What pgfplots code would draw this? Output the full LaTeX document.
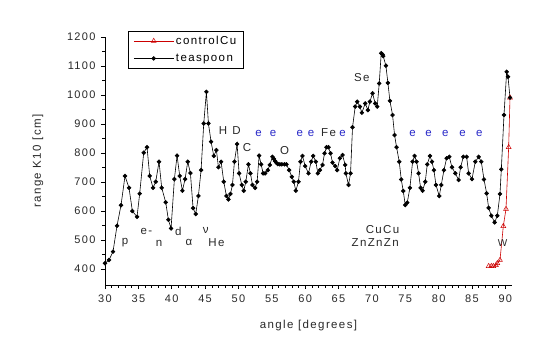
\documentclass[border=0pt]{standalone}
\usepackage{fontspec}
\setmainfont{Liberation Sans}
\newfontfamily\lbl{Liberation Sans}[LetterSpace=12]
\usepackage{pgfplots}
\pgfplotsset{compat=1.18}
\definecolor{ered}{RGB}{204,0,0}
\definecolor{eblue}{RGB}{40,40,200}
\definecolor{tgray}{RGB}{40,40,40}
\begin{document}
\begin{tikzpicture}
\path[use as bounding box] (-105pt,-69pt) rectangle (438pt,285pt);
\begin{axis}[
  at={(0pt,0pt)}, anchor=south west,
  scale only axis, width=407pt, height=248pt,
  xmin=30, xmax=91, ymin=345, ymax=1200,
  axis lines*=left,
  axis line style={line width=0.6pt},
  tick align=outside,
  major tick length=4pt, minor tick length=2.5pt,
  every tick/.style={black, line width=0.5pt},
  xtick={30,35,...,90}, minor x tick num=4,
  ytick={400,500,...,1200}, minor y tick num=1,
  /pgf/number format/assume math mode=true,
  /pgf/number format/set thousands separator={},
  tick label style={font=\lbl\fontsize{11}{13}\selectfont, text=tgray},
  xticklabel style={yshift=-2pt},
  yticklabel style={xshift=-2pt},
  xlabel={angle [degrees]}, ylabel={range K10 [cm]},
  label style={font=\lbl\fontsize{11.5}{13}\selectfont, text=tgray},
  xlabel style={at={(axis description cs:0.5,0)}, anchor=center, yshift=-41pt},
  ylabel style={at={(axis description cs:0,0.5)}, anchor=center, yshift=67pt},
  legend cell align=left,
  legend style={at={(rel axis cs:0.057,1.025)}, anchor=north west,
    draw=black, line width=0.6pt, font=\lbl\fontsize{11.5}{13}\selectfont,
    inner xsep=5pt, inner ysep=3pt, row sep=4pt},
  legend image code/.code={
    \draw[mark repeat=2,mark phase=2] plot coordinates {(0cm,0cm) (0.7cm,0cm) (1.4cm,0cm)};},
  legend image post style={line width=0.6pt},
  clip=false,
]
\addplot[ered, line width=0.6pt, mark=triangle, mark size=2.8pt, mark options={solid, line width=0.5pt}]
coordinates {
(87.5,410)(87.9,410)(88.2,410)(88.6,413)(88.8,420)(89.2,431)(89.7,548)(90.1,607)(90.5,820)(90.7,991)
};
\addlegendentry{controlCu}
\addplot[black, line width=0.6pt, mark=*, mark size=1.9pt]
coordinates {
(30.0,420)(30.6,431)(31.2,460)(31.8,549)(32.4,620)(33.0,721)(33.6,680)(34.1,600)(34.8,580)
(35.2,660)(35.8,801)(36.3,820)(36.7,721)(37.2,680)(37.6,701)(38.1,770)(38.5,680)(39.1,630)
(39.5,570)(39.9,540)(40.4,710)(40.8,791)(41.2,721)(41.6,670)(42.0,710)(42.4,770)(42.8,731)
(43.2,610)(43.6,590)(44.0,652)(44.4,741)(44.8,902)(45.2,1011)(45.5,902)(45.9,839)(46.3,790)
(46.7,810)(47.0,751)(47.4,770)(47.8,701)(48.2,652)(48.5,640)(48.8,659)(49.1,690)(49.4,770)
(49.8,831)(50.1,730)(50.5,690)(50.8,670)(51.1,701)(51.5,761)(51.8,730)(52.1,690)(52.5,680)
(52.8,701)(53.1,791)(53.4,761)(53.7,730)(54.0,730)(54.4,741)(54.7,759)(55.1,787)(55.3,780)
(55.5,772)(55.7,766)(55.9,762)(56.2,761)(56.5,761)(56.9,761)(57.2,761)(57.6,741)(58.0,718)
(58.3,701)(58.6,670)(59.0,701)(59.3,770)(59.6,790)(60.0,755)(60.5,730)(60.9,770)(61.2,790)
(61.6,770)(61.9,730)(62.2,741)(62.6,759)(62.9,799)(63.2,820)(63.5,820)(63.8,799)(64.1,767)
(64.5,755)(64.8,741)(65.2,782)(65.6,793)(66.0,759)(66.1,730)(66.5,690)(66.8,730)(67.1,889)
(67.5,960)(67.8,977)(68.2,960)(68.5,939)(69.0,971)(69.4,948)(69.7,977)(70.1,1006)(70.5,971)
(70.8,960)(71.1,1040)(71.4,1144)(71.6,1140)(71.7,1134)(72.1,1101)(72.4,1042)(72.7,980)
(73.1,931)(73.4,862)(73.7,820)(74.1,770)(74.4,709)(74.7,669)(75.0,621)(75.3,629)(75.7,680)
(76.1,770)(76.4,790)(76.7,770)(77.0,730)(77.3,680)(77.6,670)(78.0,701)(78.3,761)(78.7,790)
(79.0,770)(79.3,741)(79.6,690)(80.1,652)(80.4,690)(80.8,741)(81.2,782)(81.6,787)(82.0,751)
(82.5,730)(83.0,707)(83.3,751)(83.7,787)(84.2,787)(84.5,730)(85.0,710)(85.5,770)(86.0,787)
(86.4,770)(86.8,709)(87.2,661)(87.5,611)(87.9,584)(88.4,561)(88.8,584)(89.2,659)(89.4,744)
(89.8,931)(90.2,1080)(90.4,1063)(90.7,991)
};
\addlegendentry{teaspoon}
\node[font=\lbl\fontsize{11.5}{13}\selectfont, text=tgray] at (axis cs:33.0,491) {p};
\node[font=\lbl\fontsize{11.5}{13}\selectfont, text=tgray] at (axis cs:36.2,530) {e-};
\node[font=\lbl\fontsize{11.5}{13}\selectfont, text=tgray] at (axis cs:38.1,489) {n};
\node[font=\lbl\fontsize{11.5}{13}\selectfont, text=tgray] at (axis cs:41.0,530) {d};
\node[font=\lbl\fontsize{11.5}{13}\selectfont, text=tgray] at (axis cs:42.6,491) {α};
\node[font=\lbl\fontsize{11.5}{13}\selectfont, text=tgray] at (axis cs:45.1,532) {ν};
\node[font=\lbl\fontsize{11.5}{13}\selectfont, text=tgray] at (axis cs:46.7,491) {He};
\node[font=\lbl\fontsize{11.5}{13}\selectfont, text=tgray] at (axis cs:47.7,876) {H};
\node[font=\lbl\fontsize{11.5}{13}\selectfont, text=tgray] at (axis cs:49.7,876) {D};
\node[font=\lbl\fontsize{11.5}{13}\selectfont, text=tgray] at (axis cs:51.3,820) {C};
\node[font=\lbl\fontsize{11.5}{13}\selectfont, text=tgray] at (axis cs:56.9,808) {O};
\node[font=\lbl\fontsize{11.5}{13}\selectfont, text=tgray] at (axis cs:63.5,870) {Fe};
\node[font=\lbl\fontsize{11.5}{13}\selectfont, text=tgray] at (axis cs:68.5,1061) {Se};
\node[font=\lbl\fontsize{11.5}{13}\selectfont, text=tgray] at (axis cs:71.6,537) {CuCu};
\node[font=\lbl\fontsize{11.5}{13}\selectfont, text=tgray] at (axis cs:70.5,491) {ZnZnZn};
\node[font=\lbl\fontsize{10}{12}\selectfont, text=tgray] at (axis cs:89.6,489) {W};
\node[font=\lbl\fontsize{11.5}{13}\selectfont, text=eblue] at (axis cs:53.0,868) {e};
\node[font=\lbl\fontsize{11.5}{13}\selectfont, text=eblue] at (axis cs:55.2,868) {e};
\node[font=\lbl\fontsize{11.5}{13}\selectfont, text=eblue] at (axis cs:59.2,868) {e};
\node[font=\lbl\fontsize{11.5}{13}\selectfont, text=eblue] at (axis cs:60.9,868) {e};
\node[font=\lbl\fontsize{11.5}{13}\selectfont, text=eblue] at (axis cs:65.6,868) {e};
\node[font=\lbl\fontsize{11.5}{13}\selectfont, text=eblue] at (axis cs:76.1,868) {e};
\node[font=\lbl\fontsize{11.5}{13}\selectfont, text=eblue] at (axis cs:78.5,868) {e};
\node[font=\lbl\fontsize{11.5}{13}\selectfont, text=eblue] at (axis cs:81.0,868) {e};
\node[font=\lbl\fontsize{11.5}{13}\selectfont, text=eblue] at (axis cs:83.6,868) {e};
\node[font=\lbl\fontsize{11.5}{13}\selectfont, text=eblue] at (axis cs:86.1,868) {e};
\end{axis}
\end{tikzpicture}
\end{document}
